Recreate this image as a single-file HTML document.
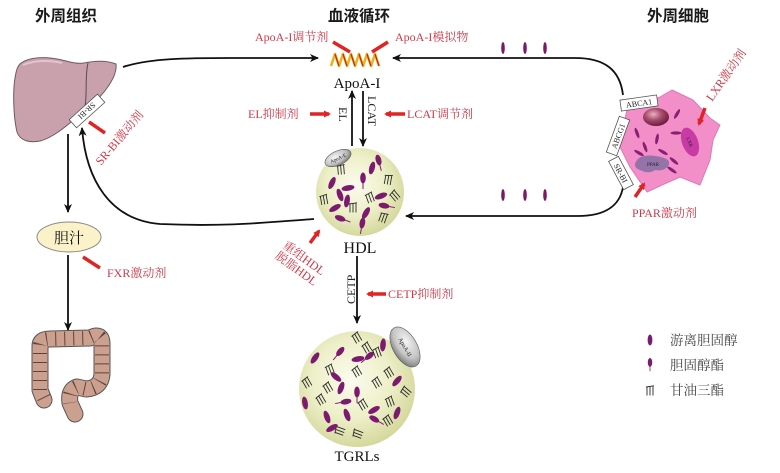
<!DOCTYPE html>
<html><head><meta charset="utf-8">
<style>
html,body{margin:0;padding:0;background:#fff;}
svg{display:block;}
.h{font-family:"Liberation Sans","Noto Sans CJK SC",sans-serif;font-weight:bold;font-size:15.5px;fill:#1a1a1a;}
.r{font-family:"Liberation Serif","Noto Serif CJK SC",serif;fill:#cc3a4a;font-size:12px;}
.b{font-family:"Liberation Serif","Noto Serif CJK SC",serif;fill:#111;}
.s{font-family:"Liberation Serif",serif;fill:#222;}
.lg{font-family:"Liberation Serif","Noto Serif CJK SC",serif;fill:#444;font-size:13.5px;}
</style></head><body>
<svg width="780" height="473" viewBox="0 0 780 473" xmlns="http://www.w3.org/2000/svg">
<defs>
<marker id="ah" markerWidth="10" markerHeight="10" refX="8" refY="4" orient="auto" markerUnits="userSpaceOnUse">
<path d="M0,0 L9,4 L0,8 L2.5,4 Z" fill="#111"/>
</marker>
<marker id="rh" markerWidth="8" markerHeight="8" refX="5" refY="3.5" orient="auto" markerUnits="userSpaceOnUse">
<path d="M0,0 L7,3.5 L0,7 Z" fill="#e02424"/>
</marker>
<radialGradient id="pg" cx="45%" cy="42%" r="60%">
<stop offset="0" stop-color="#fbfbee"/><stop offset="0.55" stop-color="#eef0c9"/><stop offset="1" stop-color="#d3d79a"/>
</radialGradient>
<radialGradient id="gg" cx="40%" cy="35%" r="70%">
<stop offset="0" stop-color="#f4f4f4"/><stop offset="0.6" stop-color="#c4c4c4"/><stop offset="1" stop-color="#777"/>
</radialGradient>
<radialGradient id="nuc" cx="40%" cy="35%" r="65%">
<stop offset="0" stop-color="#e7b2c2"/><stop offset="0.5" stop-color="#a84c6c"/><stop offset="1" stop-color="#6c1c3c"/>
</radialGradient>
<g id="tg" stroke="#2a2a2a" stroke-width="0.9" fill="none"><path d="M-4,-4 L4,-5.2 M-3,-4 L-3,4.5 M0,-4.5 L0,4.5 M3,-5 L3,4.5"/></g>
<g id="fc"><ellipse cx="0" cy="0" rx="2.8" ry="6.5" fill="#7c1a70"/></g>
<g id="ce"><ellipse cx="0" cy="-2" rx="2.8" ry="5.5" fill="#7c1a70"/><line x1="0" y1="3" x2="0" y2="9" stroke="#7c1a70" stroke-width="1"/></g>
<g id="cfc"><ellipse cx="0" cy="0" rx="1.8" ry="6" fill="#7a1a64"/></g>
</defs>

<!-- titles -->
<text class="h" x="35" y="21">外周组织</text>
<text class="h" x="328" y="21">血液循环</text>
<text class="h" x="647" y="21">外周细胞</text>

<!-- main connectors -->
<path d="M123,67 C150,58 190,58 230,58 L318,58" fill="none" stroke="#111" stroke-width="1.8" marker-end="url(#ah)"/>
<path d="M623,95 C620,70 605,58 575,58 L393,58" fill="none" stroke="#111" stroke-width="1.8" marker-end="url(#ah)"/>
<path d="M623,187 C620,205 606,216 578,216 L406,216" fill="none" stroke="#111" stroke-width="1.8" marker-end="url(#ah)"/>
<path d="M314,219 C270,222 230,227 160,224 C110,220 86,180 82,128" fill="none" stroke="#111" stroke-width="1.8" marker-end="url(#ah)"/>
<line x1="68" y1="134" x2="68" y2="212" stroke="#111" stroke-width="1.8" marker-end="url(#ah)"/>
<line x1="68" y1="255" x2="68" y2="330" stroke="#111" stroke-width="1.8" marker-end="url(#ah)"/>
<line x1="352" y1="146" x2="352" y2="91" stroke="#111" stroke-width="1.8" marker-end="url(#ah)"/>
<line x1="363" y1="91" x2="363" y2="146" stroke="#111" stroke-width="1.8" marker-end="url(#ah)"/>
<line x1="357" y1="256" x2="357" y2="323" stroke="#111" stroke-width="1.8" marker-end="url(#ah)"/>

<!-- liver -->
<path d="M20,64 C28,57 45,56 62,60 C70,62 76,64 84,63 C94,61 106,60 116,64 C117,72 112,82 104,92 C96,102 86,110 76,118 C64,128 52,138 40,141 C30,143 20,141 17,132 C13,115 13,90 15,78 C16,72 17,67 20,64 Z" fill="#c9a1ac" stroke="#6e5860" stroke-width="1"/>
<path d="M23,65 C35,60 50,60 62,63" fill="none" stroke="#e2c6ce" stroke-width="2"/>
<path d="M88,63 C84,80 89,100 82,118" fill="none" stroke="#5c4a50" stroke-width="1"/>
<g transform="translate(87,111) rotate(138)">
<rect x="-19" y="-5.5" width="38" height="11" fill="#fff" stroke="#555" stroke-width="0.8"/>
<text class="s" x="0" y="3" font-size="8" text-anchor="middle">SR-BI</text>
</g>
<line x1="105" y1="133" x2="89" y2="122" stroke="#e02424" stroke-width="3.5"/>
<text class="r" transform="translate(101,166) rotate(-50)">SR-BI激动剂</text>

<!-- bile -->
<ellipse cx="69" cy="237" rx="32" ry="15" fill="#fcf2c9" stroke="#8a8a8a" stroke-width="1"/>
<text class="b" x="69" y="243" font-size="15" text-anchor="middle">胆汁</text>
<line x1="100" y1="268" x2="83" y2="257" stroke="#e02424" stroke-width="3.5"/>
<text class="r" x="107" y="277">FXR激动剂</text>

<!-- colon -->
<g fill="none" stroke-linejoin="round">
<path d="M44,400 L40,390 L40,346 Q40,339 50,339 L90,338 Q102,332 102,344 L102,374 Q101,388 86,389 L77,387 Q68,390 70,403 L75,414" stroke="#555" stroke-width="17" stroke-linecap="round"/>
<path d="M44,400 L40,390 L40,346 Q40,339 50,339 L90,338 Q102,332 102,344 L102,374 Q101,388 86,389 L77,387 Q68,390 70,403 L75,414" stroke="#cca08f" stroke-width="15" stroke-linecap="round"/>
<path d="M44,398 L40,390 L40,346 Q40,339 50,339 L90,338 Q102,332 102,344 L102,374 Q101,388 86,389 L77,387 Q68,390 70,403" stroke="#5e443b" stroke-width="14" stroke-dasharray="1 8" stroke-linecap="butt"/>
</g>

<!-- ApoA-I helix -->
<path d="M331,66 L335,54 L339,66 L343,54 L347,66 L351,54 L355,66 L359,54 L363,66 L367,54 L371,66 L375,54 L379,66" fill="none" stroke="#f0b020" stroke-width="2.6" stroke-linejoin="round"/>
<path d="M335,54 L339,66 M343,54 L347,66 M351,54 L355,66 M359,54 L363,66 M367,54 L371,66 M375,54 L379,66" fill="none" stroke="#b0301c" stroke-width="1.2"/>
<text class="b" x="357" y="88" font-size="15" text-anchor="middle">ApoA-I</text>
<text class="r" x="255" y="41">ApoA-I调节剂</text>
<text class="r" x="395" y="41">ApoA-I模拟物</text>
<line x1="333" y1="42" x2="350" y2="52" stroke="#e02424" stroke-width="3.5"/>
<line x1="388" y1="42" x2="372" y2="52" stroke="#e02424" stroke-width="3.5"/>

<!-- EL / LCAT -->
<text class="s" transform="translate(339,107) rotate(90)" font-size="12">EL</text>
<text class="s" transform="translate(368,96) rotate(90)" font-size="12">LCAT</text>
<text class="r" x="248" y="118">EL抑制剂</text>
<line x1="310" y1="114" x2="329" y2="114" stroke="#e02424" stroke-width="3.5" marker-end="url(#rh)"/>
<text class="r" x="407" y="118">LCAT调节剂</text>
<line x1="405" y1="114" x2="386" y2="114" stroke="#e02424" stroke-width="3.5" marker-end="url(#rh)"/>

<!-- HDL particle -->
<circle cx="360" cy="192" r="44" fill="url(#pg)"/>
<g>
<use href="#fc" transform="translate(372,168) rotate(15)"/>
<use href="#ce" transform="translate(379,162) rotate(-15)"/>
<use href="#tg" transform="translate(341,170) rotate(-5)"/>
<use href="#fc" transform="translate(332,183) rotate(25)"/>
<use href="#fc" transform="translate(348,188) rotate(80)"/>
<use href="#ce" transform="translate(363,180) rotate(0)"/>
<use href="#tg" transform="translate(388,180) rotate(10)"/>
<use href="#fc" transform="translate(340,195) rotate(-20)"/>
<use href="#tg" transform="translate(324,200) rotate(-10)"/>
<use href="#fc" transform="translate(347,201) rotate(10)"/>
<use href="#tg" transform="translate(370,198) rotate(-20)"/>
<use href="#fc" transform="translate(381,196) rotate(70)"/>
<use href="#ce" transform="translate(386,206) rotate(-80)"/>
<use href="#tg" transform="translate(395,196) rotate(-40)"/>
<use href="#fc" transform="translate(366,213) rotate(30)"/>
<use href="#tg" transform="translate(353,208) rotate(0)"/>
<use href="#ce" transform="translate(342,219) rotate(-70)"/>
<use href="#ce" transform="translate(362,225) rotate(10)"/>
<use href="#tg" transform="translate(383,218) rotate(20)"/>
<use href="#fc" transform="translate(335,208) rotate(60)"/>
</g>
<g transform="translate(338,158) rotate(-25)">
<ellipse rx="14" ry="7" fill="url(#gg)" stroke="#555" stroke-width="0.6"/>
<text class="s" x="0" y="2" font-size="5" text-anchor="middle" fill="#fff">ApoA-E</text>
</g>
<text class="b" x="360" y="253" font-size="16" text-anchor="middle">HDL</text>

<line x1="310" y1="243" x2="319" y2="231" stroke="#e02424" stroke-width="3.5" marker-end="url(#rh)"/>
<g transform="translate(282,247) rotate(36)">
<text class="r" x="0" y="0">重组HDL</text>
<text class="r" x="0" y="13">脱脂HDL</text>
</g>

<!-- CETP -->
<text class="s" transform="translate(355,304) rotate(-90)" font-size="12">CETP</text>
<text class="r" x="388" y="298">CETP抑制剂</text>
<line x1="386" y1="294" x2="368" y2="294" stroke="#e02424" stroke-width="3.5" marker-end="url(#rh)"/>

<!-- TGRLs -->
<circle cx="357" cy="389" r="58" fill="url(#pg)"/>
<g>
<use href="#fc" transform="translate(315,358) rotate(35)"/>
<use href="#ce" transform="translate(339,353) rotate(40)"/>
<use href="#tg" transform="translate(357,338) rotate(-30)"/>
<use href="#tg" transform="translate(367,348) rotate(-30)"/>
<use href="#fc" transform="translate(358,359) rotate(80)"/>
<use href="#ce" transform="translate(368,357) rotate(50)"/>
<use href="#tg" transform="translate(377,353) rotate(-20)"/>
<use href="#fc" transform="translate(383,345) rotate(5)"/>
<use href="#tg" transform="translate(330,370) rotate(-20)"/>
<use href="#fc" transform="translate(336,377) rotate(-50)"/>
<use href="#tg" transform="translate(357,372) rotate(-30)"/>
<use href="#fc" transform="translate(341,388) rotate(20)"/>
<use href="#tg" transform="translate(328,388) rotate(-30)"/>
<use href="#tg" transform="translate(307,383) rotate(-30)"/>
<use href="#ce" transform="translate(357,394) rotate(0)"/>
<use href="#tg" transform="translate(377,383) rotate(-30)"/>
<use href="#tg" transform="translate(389,373) rotate(-30)"/>
<use href="#fc" transform="translate(397,381) rotate(40)"/>
<use href="#tg" transform="translate(406,392) rotate(-50)"/>
<use href="#fc" transform="translate(305,403) rotate(-10)"/>
<use href="#tg" transform="translate(321,400) rotate(-30)"/>
<use href="#ce" transform="translate(344,402) rotate(80)"/>
<use href="#tg" transform="translate(363,405) rotate(-30)"/>
<use href="#tg" transform="translate(390,402) rotate(-20)"/>
<use href="#fc" transform="translate(374,410) rotate(60)"/>
<use href="#fc" transform="translate(397,413) rotate(20)"/>
<use href="#fc" transform="translate(327,417) rotate(-20)"/>
<use href="#fc" transform="translate(347,415) rotate(-20)"/>
<use href="#ce" transform="translate(376,420) rotate(-60)"/>
<use href="#tg" transform="translate(388,421) rotate(-30)"/>
<use href="#tg" transform="translate(340,431) rotate(-70)"/>
<use href="#tg" transform="translate(358,434) rotate(-70)"/>
<use href="#fc" transform="translate(332,428) rotate(60)"/>
</g>
<g transform="translate(405,347) rotate(60)">
<ellipse rx="22" ry="12" fill="url(#gg)" stroke="#555" stroke-width="0.6"/>
<text class="s" x="0" y="2" font-size="6" text-anchor="middle" fill="#333">ApoA-II</text>
</g>
<text class="b" x="357" y="461" font-size="15" text-anchor="middle">TGRLs</text>

<!-- free cholesterol dots on lines -->
<use href="#cfc" transform="translate(503,48)"/>
<use href="#cfc" transform="translate(525,48)"/>
<use href="#cfc" transform="translate(545,48)"/>
<use href="#cfc" transform="translate(503,195)"/>
<use href="#cfc" transform="translate(525,195)"/>
<use href="#cfc" transform="translate(545,195)"/>

<!-- cell -->
<path d="M627,110 L660,97 L672,90 L693,100 L710,118 L720,125 L713,140 L710,160 L700,185 L680,177 L662,185 L647,192 L630,167 L620,147 L623,127 Z" fill="#f28fc9" stroke="#dd78b6" stroke-width="1" stroke-linejoin="round"/>
<ellipse cx="656" cy="117" rx="13" ry="9" fill="url(#nuc)"/>
<g transform="translate(690,142) rotate(70)">
<ellipse rx="15" ry="8" fill="#c83aa4"/>
<text class="s" x="0" y="2" font-size="5" text-anchor="middle" fill="#333">LXR</text>
</g>
<path d="M637,160 C642,153 660,155 668,160 C672,166 664,172 655,170 C650,174 644,172 640,170 C634,168 634,164 637,160 Z" fill="#9474a8"/>
<text class="s" x="653" y="166" font-size="5" text-anchor="middle" fill="#333">PPAR</text>
<g fill="#8a1e74">
<ellipse cx="677" cy="114" rx="1.6" ry="5.5" transform="rotate(30 677 114)"/>
<ellipse cx="637" cy="133" rx="1.6" ry="5.5" transform="rotate(-20 637 133)"/>
<ellipse cx="657" cy="139" rx="1.6" ry="5.5" transform="rotate(10 657 139)"/>
<ellipse cx="676" cy="133" rx="1.6" ry="5.5" transform="rotate(90 676 133)"/>
<ellipse cx="645" cy="147" rx="1.6" ry="5.5" transform="rotate(-20 645 147)"/>
<ellipse cx="663" cy="152" rx="1.6" ry="5.5" transform="rotate(-60 663 152)"/>
<ellipse cx="639" cy="153" rx="1.6" ry="5.5" transform="rotate(-60 639 153)"/>
<ellipse cx="674" cy="161" rx="1.6" ry="5.5" transform="rotate(-50 674 161)"/>
<ellipse cx="672" cy="170" rx="1.6" ry="5.5" transform="rotate(-55 672 170)"/>
</g>
<g transform="translate(639,103) rotate(-8)">
<rect x="-18.5" y="-5.5" width="37" height="11" fill="#fff" stroke="#555" stroke-width="0.8"/>
<text class="s" x="0" y="3" font-size="8" text-anchor="middle">ABCA1</text>
</g>
<g transform="translate(618,136) rotate(-70)">
<rect x="-19" y="-5.5" width="38" height="11" fill="#fff" stroke="#555" stroke-width="0.8"/>
<text class="s" x="0" y="3" font-size="8" text-anchor="middle">ABCG1</text>
</g>
<g transform="translate(621,173) rotate(62)">
<rect x="-16" y="-5.5" width="32" height="11" fill="#fff" stroke="#555" stroke-width="0.8"/>
<text class="s" x="0" y="3" font-size="8" text-anchor="middle">SR-BI</text>
</g>
<line x1="705" y1="108" x2="699" y2="124" stroke="#e02424" stroke-width="3.5" marker-end="url(#rh)"/>
<text class="r" transform="translate(712,102) rotate(-55)">LXR激动剂</text>
<line x1="635" y1="197" x2="644" y2="184" stroke="#e02424" stroke-width="3.5" marker-end="url(#rh)"/>
<text class="r" x="632" y="217">PPAR激动剂</text>

<!-- legend -->
<use href="#fc" transform="translate(650,340) scale(0.85)"/>
<text class="lg" x="670" y="345">游离胆固醇</text>
<use href="#ce" transform="translate(650,364) scale(0.8)"/>
<text class="lg" x="670" y="370">胆固醇酯</text>
<use href="#tg" transform="translate(650,391)"/>
<text class="lg" x="670" y="395">甘油三酯</text>
</svg>
</body></html>
